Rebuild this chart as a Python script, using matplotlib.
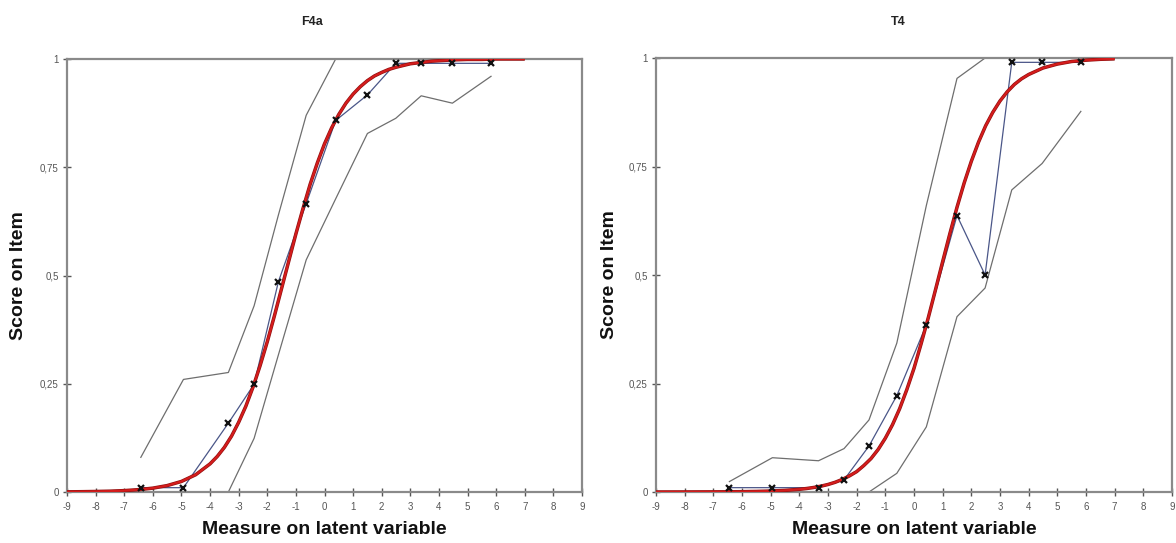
import matplotlib
matplotlib.use("Agg")
import matplotlib.pyplot as plt
from matplotlib.ticker import FixedLocator, FixedFormatter

plt.rcParams['font.family'] = ['Liberation Sans', 'DejaVu Sans']

# ---------------- data ----------------
titles = ["F4a", "T4"]
x_ticks = list(range(-9, 10))
y_ticks = [0, 0.25, 0.5, 0.75, 1]
y_tick_labels = ["0", "0,25", "0,5", "0,75", "1"]
x_label = "Measure on latent variable"
y_label = "Score on Item"

# F4a
f4a_x = [-6.42, -4.93, -3.36, -2.46, -1.61, -0.64, 0.39, 1.50, 2.49, 3.38, 4.47, 5.82]
f4a_obs = [0.01, 0.01, 0.159, 0.249, 0.486, 0.666, 0.858, 0.917, 0.99, 0.99, 0.99, 0.99]
f4a_upper = [0.08, 0.26, 0.276, 0.43, 0.64, 0.87, 1.0, 1.0, 1.0, 1.0, 1.0, 1.0]
f4a_lower = [0.0, 0.0, 0.0, 0.124, 0.317, 0.536, 0.677, 0.828, 0.863, 0.915, 0.898, 0.96]

# T4
t4_x = [-6.44, -4.94, -3.33, -2.44, -1.57, -0.60, 0.43, 1.50, 2.48, 3.41, 4.47, 5.82]
t4_obs = [0.01, 0.01, 0.01, 0.028, 0.106, 0.222, 0.385, 0.637, 0.50, 0.99, 0.99, 0.99]
t4_upper = [0.024, 0.079, 0.072, 0.10, 0.166, 0.343, 0.66, 0.953, 1.0, 1.0, 1.0, 1.0]
t4_lower = [0.0, 0.0, 0.0, 0.0, 0.0, 0.043, 0.15, 0.404, 0.47, 0.696, 0.757, 0.877]

# expected score curves
curve_x = [-9, -8.5, -8, -7.5, -7, -6.5, -6, -5.5, -5, -4.5, -4,
           -3.75, -3.5, -3.25, -3, -2.75, -2.5, -2.25, -2, -1.75, -1.5, -1.25,
           -1, -0.75, -0.5, -0.25, 0, 0.25, 0.5, 0.75, 1, 1.25, 1.5, 1.75,
           2, 2.25, 2.5, 2.75, 3, 3.25, 3.5, 3.75, 4,
           4.5, 5, 5.5, 6, 6.5, 7]
f4a_curve = [0.0004, 0.0007, 0.0012, 0.0019, 0.0032, 0.0054, 0.0089, 0.0148,
             0.0244, 0.040, 0.065,
             0.082, 0.103, 0.129, 0.161, 0.198, 0.242, 0.292, 0.347, 0.407,
             0.470, 0.533, 0.596, 0.655, 0.711, 0.760, 0.804, 0.841, 0.872,
             0.898, 0.919, 0.936, 0.950, 0.961, 0.969, 0.976, 0.981, 0.985,
             0.989, 0.991, 0.993, 0.995, 0.996,
             0.998, 0.999, 0.999, 1.0, 1.0, 1.0]
t4_curve = [0.00003, 0.00006, 0.0001, 0.0002, 0.0003, 0.0005, 0.0008, 0.0013,
            0.0022, 0.0037, 0.0062,
            0.0080, 0.0104, 0.0134, 0.0173, 0.0224, 0.029, 0.0372, 0.047,
            0.061, 0.077, 0.098, 0.124, 0.155, 0.192, 0.236, 0.285, 0.342,
            0.402, 0.466, 0.531, 0.595, 0.656, 0.712, 0.762, 0.806, 0.844,
            0.875, 0.901, 0.922, 0.939, 0.952, 0.962,
            0.977, 0.986, 0.992, 0.995, 0.997, 0.998]

panels = [
    (f4a_x, f4a_obs, f4a_upper, f4a_lower, f4a_curve),
    (t4_x, t4_obs, t4_upper, t4_lower, t4_curve),
]

# ---------------- figure ----------------
W, H = 1176, 543
fig = plt.figure(figsize=(W / 100, H / 100), dpi=100)

boxes = [(67, 59, 582, 492), (656, 58, 1172, 492)]
title_x = [312, 898]
ylabel_x = [19, 609]

spine_col = "#8a8a8a"
ci_col = "#6e6e6e"
obs_col = "#4a5688"
red_col = "#d41c1c"

for i, (bx, (xs, obs, up, lo, cur)) in enumerate(zip(boxes, panels)):
    l, t, r, b = bx
    ax = fig.add_axes([l / W, 1 - b / H, (r - l) / W, (b - t) / H])
    ax.set_xlim(-9, 9)
    ax.set_ylim(0, 1)

    ax.plot(xs, up, color=ci_col, lw=0.9, zorder=2)
    ax.plot(xs, lo, color=ci_col, lw=0.9, zorder=2)
    ax.plot(xs, obs, color=obs_col, lw=0.9, zorder=3)
    ax.plot(curve_x, cur, color="#8e1010", lw=2.5, zorder=4,
            solid_capstyle="butt", solid_joinstyle="round")
    ax.plot(curve_x, cur, color=red_col, lw=1.6, zorder=5,
            solid_capstyle="butt", solid_joinstyle="round")
    ax.plot(xs, obs, linestyle="none", marker="x", ms=5, mew=1.6,
            color="#111111", zorder=6)

    for sp in ax.spines.values():
        sp.set_color(spine_col)
        sp.set_linewidth(1.6)

    ax.xaxis.set_major_locator(FixedLocator(x_ticks))
    ax.xaxis.set_major_formatter(FixedFormatter([str(v) for v in x_ticks]))
    ax.yaxis.set_major_locator(FixedLocator(y_ticks))
    ax.yaxis.set_major_formatter(FixedFormatter(y_tick_labels))
    ax.tick_params(axis="both", direction="inout", length=6, width=1.0,
                   color="#555555", labelsize=7, labelcolor="#555555")
    ax.tick_params(axis="x", pad=4)
    ax.tick_params(axis="y", pad=3)

    fig.text(title_x[i] / W, 1 - 22 / H, titles[i], ha="center", va="center",
             fontsize=9, fontweight="bold", color="#222222")
    fig.text(((l + r) / 2) / W, 1 - 530 / H, x_label, ha="center", va="center",
             fontsize=14, fontweight="bold", color="#111111")
    fig.text(ylabel_x[i] / W, 1 - ((t + b) / 2) / H, y_label, ha="center",
             va="center", rotation=90, fontsize=14, fontweight="bold",
             color="#111111")

fig.savefig("out.png", dpi=100)
